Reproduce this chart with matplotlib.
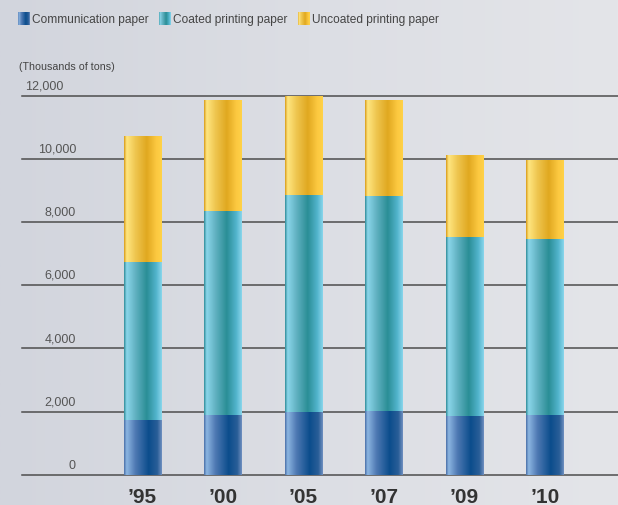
import numpy as np
import matplotlib.pyplot as plt
from matplotlib.colors import LinearSegmentedColormap

years = ["’95", "’00", "’05", "’07", "’09", "’10"]
communication = [1740, 1905, 1990, 2020, 1865, 1900]
coated = [5000, 6440, 6870, 6800, 5655, 5555]
uncoated = [3960, 3505, 3120, 3030, 2590, 2500]
series_names = ["Communication paper", "Coated printing paper", "Uncoated printing paper"]
y_ticks = [0, 2000, 4000, 6000, 8000, 10000, 12000]

plt.rcParams['font.family'] = ['Liberation Sans', 'DejaVu Sans']

# cylinder-like shading across each bar
shades = [
    LinearSegmentedColormap.from_list('comm', [
        (0, '#4a70a8'), (0.07, '#8cb6e2'), (0.3, '#4f79b3'),
        (0.65, '#0b4d8c'), (0.88, '#2a5e98'), (1, '#7090c0')]),
    LinearSegmentedColormap.from_list('coated', [
        (0, '#2f8c98'), (0.07, '#8ad6ea'), (0.3, '#62b2c2'),
        (0.6, '#2a8e96'), (0.85, '#52b4cc'), (1, '#8ad6ec')]),
    LinearSegmentedColormap.from_list('uncoated', [
        (0, '#d89a18'), (0.07, '#ffe680'), (0.3, '#efc650'),
        (0.6, '#e0a820'), (0.85, '#fcc840'), (1, '#ffd248')]),
]
grad = np.linspace(0, 1, 256).reshape(1, -1)

W, H = 618, 506
fig = plt.figure(figsize=(W / 100, H / 100), dpi=100)

bg = fig.add_axes([0, 0, 1, 1], zorder=-10)
bg_cmap = LinearSegmentedColormap.from_list('bg', ['#d2d5dd', '#dcdee4', '#e4e5e9'])
bg.imshow(grad, aspect='auto', cmap=bg_cmap, extent=[0, 1, 0, 1])
bg.axis('off')

x0, x1, y0, y1 = 22, 618, 475.7, 96.5
ax = fig.add_axes([x0 / W, (H - y0) / H, (x1 - x0) / W, (y0 - y1) / H])
ax.patch.set_alpha(0)
for s in ax.spines.values():
    s.set_visible(False)

x = np.arange(len(years))
bottoms = np.zeros(len(years))
for vals, cmap in zip([communication, coated, uncoated], shades):
    bars = ax.bar(x, vals, width=0.47, bottom=bottoms, color=cmap(0.5), zorder=2)
    for b in bars:
        bx, by, bw, bh = b.get_x(), b.get_y(), b.get_width(), b.get_height()
        ax.imshow(grad, aspect='auto', cmap=cmap, extent=[bx, bx + bw, by, by + bh], zorder=3)
    bottoms += np.array(vals)

ax.set_xlim(-1.497, 5.907)
ax.set_ylim(0, 12000)

for v in y_ticks:
    ax.axhline(v, color='#4d4d4d', lw=1.1, zorder=1, clip_on=False)
    lx = 0.07 if v == y_ticks[-1] else 0.0906
    ax.annotate(f"{v:,}", xy=(lx, v), xycoords=('axes fraction', 'data'),
                xytext=(0, 3), textcoords='offset points',
                ha='right', va='bottom', fontsize=9, color='#555555')

ax.set_xticks(x)
ax.set_xticklabels(years, fontsize=15, fontweight='bold', color='#333333')
ax.tick_params(axis='x', length=0, pad=9)
ax.set_yticks([])

fig.text(19 / W, 1 - 67 / H, "(Thousands of tons)", fontsize=7.7, color='#444444',
         ha='left', va='center')

# legend swatches with the same shading
swatch_x = [18, 159, 298]
for sx, name, cmap in zip(swatch_x, series_names, shades):
    sw = fig.add_axes([sx / W, 1 - 26 / H, 12 / W, 13 / H])
    sw.imshow(grad, aspect='auto', cmap=cmap)
    sw.axis('off')
    fig.text((sx + 14) / W, 1 - 19.5 / H, name, fontsize=8.6, color='#444444',
             ha='left', va='center')

fig.savefig('out.png', dpi=100)
